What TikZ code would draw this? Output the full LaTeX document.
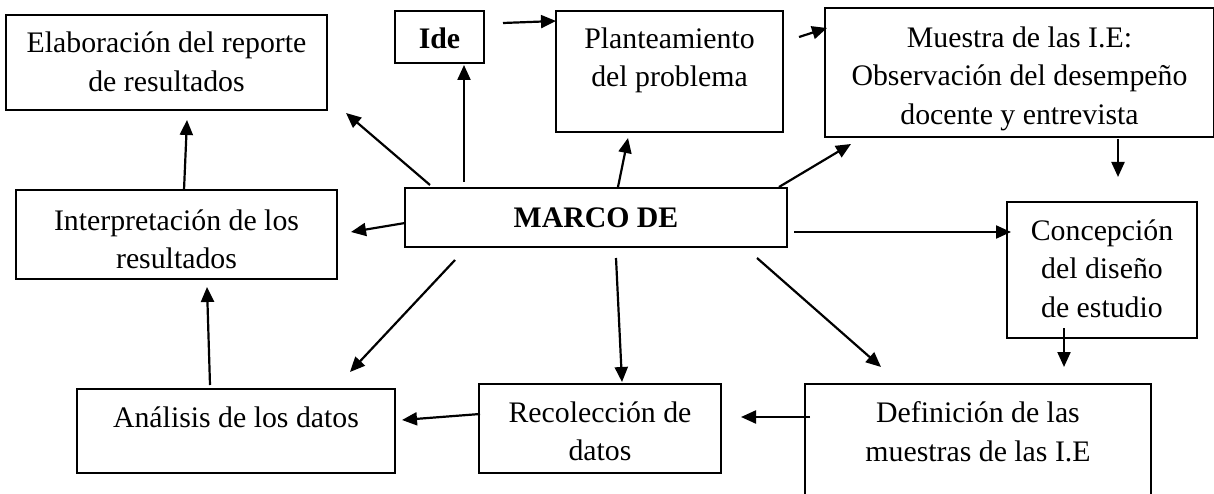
\documentclass[tikz,border=0pt]{standalone}
\usepackage{fontspec}
\setmainfont{Liberation Serif}
\usetikzlibrary{arrows.meta}
\newcommand{\myst}{\rule{0pt}{24pt}}
\begin{document}
\begin{tikzpicture}[x=1pt,y=-1pt,
  box/.style={draw=black, line width=1.2pt, anchor=north west, inner sep=0pt, outer sep=0pt},
  txt/.style={anchor=north, align=center, inner sep=0pt, font=\fontsize{29.8}{38.6}\selectfont},
  arr/.style={line width=2.2pt, -{Triangle[length=15pt,width=13pt]}}]
\useasboundingbox (0,0) rectangle (1214,494);
\clip (0,0) rectangle (1214,494);
\fill[white] (0,0) rectangle (1214,494);
% boxes
\node[box, minimum width=321pt, minimum height=95pt]  (elab)     at (6,15) {};
\node[box, minimum width=89pt,  minimum height=52pt]  (ide)      at (395,11) {};
\node[box, minimum width=227pt, minimum height=121pt] (plant)    at (556,11) {};
\node[box, minimum width=389pt, minimum height=129pt] (muestra)  at (825,8) {};
\node[box, minimum width=382pt, minimum height=59pt]  (marco)    at (405,188) {};
\node[box, minimum width=321pt, minimum height=89pt]  (interp)   at (16,190) {};
\node[box, minimum width=190pt, minimum height=136pt] (concep)   at (1007,202) {};
\node[box, minimum width=318pt, minimum height=84pt]  (analisis) at (77,389) {};
\node[box, minimum width=242pt, minimum height=89pt]  (recol)    at (479,384) {};
\node[box, minimum width=346pt, minimum height=146pt] (defin)    at (805,384) {};
% texts
\node[txt] (elabT)    at ([yshift=-13.7pt]elab.north) {\myst Elaboración del reporte\\de resultados};
\node[txt] (ideT)     at ([yshift=-13.3pt]ide.north) {\myst\textbf{Ide}};
\node[txt] (plantT)   at ([yshift=-13pt]plant.north) {\myst Planteamiento\\del problema};
\node[txt] (muestraT) at ([yshift=-15pt]muestra.north) {\myst Muestra de las I.E:\\Observación del desempeño\\docente y entrevista};
\node[txt] (marcoT)   at ([yshift=-15pt]marco.north) {\myst\textbf{MARCO DE}};
\node[txt] (interpT)  at ([yshift=-16pt]interp.north) {\myst Interpretación de los\\resultados};
\node[txt] (concepT)  at ([yshift=-14pt]concep.north) {\myst Concepción\\del diseño\\de estudio};
\node[txt] (analisisT) at ([yshift=-14pt]analisis.north) {\myst Análisis de los datos};
\node[txt] (recolT)   at ([yshift=-14pt]recol.north) {\myst Recolección de\\datos};
\node[txt] (definT)   at ([yshift=-14.7pt]defin.north) {\myst Definición de las\\muestras de las I.E};
% arrows
\draw[arr] ([xshift=25pt,yshift=3pt]marco.north west) -- ([xshift=19pt,yshift=-3pt]elab.south east);
\draw[arr] ([xshift=59pt,yshift=6pt]marco.north west) -- ([xshift=69pt,yshift=-2pt]ide.south west);
\draw[arr] ([xshift=19pt,yshift=-12pt]ide.north east) -- ([yshift=-10pt]plant.north west);
\draw[arr] ([xshift=213pt,yshift=1pt]marco.north west) -- ([xshift=72pt,yshift=-6pt]plant.south west);
\draw[arr] ([xshift=16pt,yshift=-26pt]plant.north east) -- ([xshift=2pt,yshift=-20pt]muestra.north west);
\draw[arr] ([xshift=-8pt,yshift=1pt]marco.north east) -- ([xshift=26pt,yshift=-7pt]muestra.south west);
\draw[arr] ([xshift=293pt,yshift=-2pt]muestra.south west) -- ([xshift=111pt,yshift=25pt]concep.north west);
\draw[arr] ([xshift=7pt,yshift=-44pt]marco.north east) -- ([xshift=4pt,yshift=-30pt]concep.north west);
\draw[arr] ([xshift=0pt,yshift=-35pt]marco.north west) -- ([xshift=14pt,yshift=-42pt]interp.north east);
\draw[arr] ([xshift=168pt,yshift=0pt]interp.north west) -- ([xshift=181pt,yshift=-10pt]elab.south west);
\draw[arr] ([xshift=50pt,yshift=-13pt]marco.south west) -- ([xshift=-45pt,yshift=17pt]analisis.north east);
\draw[arr] ([xshift=133pt,yshift=4pt]analisis.north west) -- ([xshift=191pt,yshift=-8pt]interp.south west);
\draw[arr] ([xshift=211pt,yshift=-11pt]marco.south west) -- ([xshift=143pt,yshift=2pt]recol.north west);
\draw[arr] ([xshift=-30pt,yshift=-11pt]marco.south east) -- ([xshift=76pt,yshift=17pt]defin.north west);
\draw[arr] ([xshift=57pt,yshift=10pt]concep.south west) -- ([xshift=259pt,yshift=17pt]defin.north west);
\draw[arr] ([xshift=5pt,yshift=-33pt]defin.north west) -- ([xshift=20pt,yshift=-33pt]recol.north east);
\draw[arr] ([xshift=1pt,yshift=-30pt]recol.north west) -- ([xshift=7pt,yshift=-31pt]analisis.north east);
\end{tikzpicture}
\end{document}
